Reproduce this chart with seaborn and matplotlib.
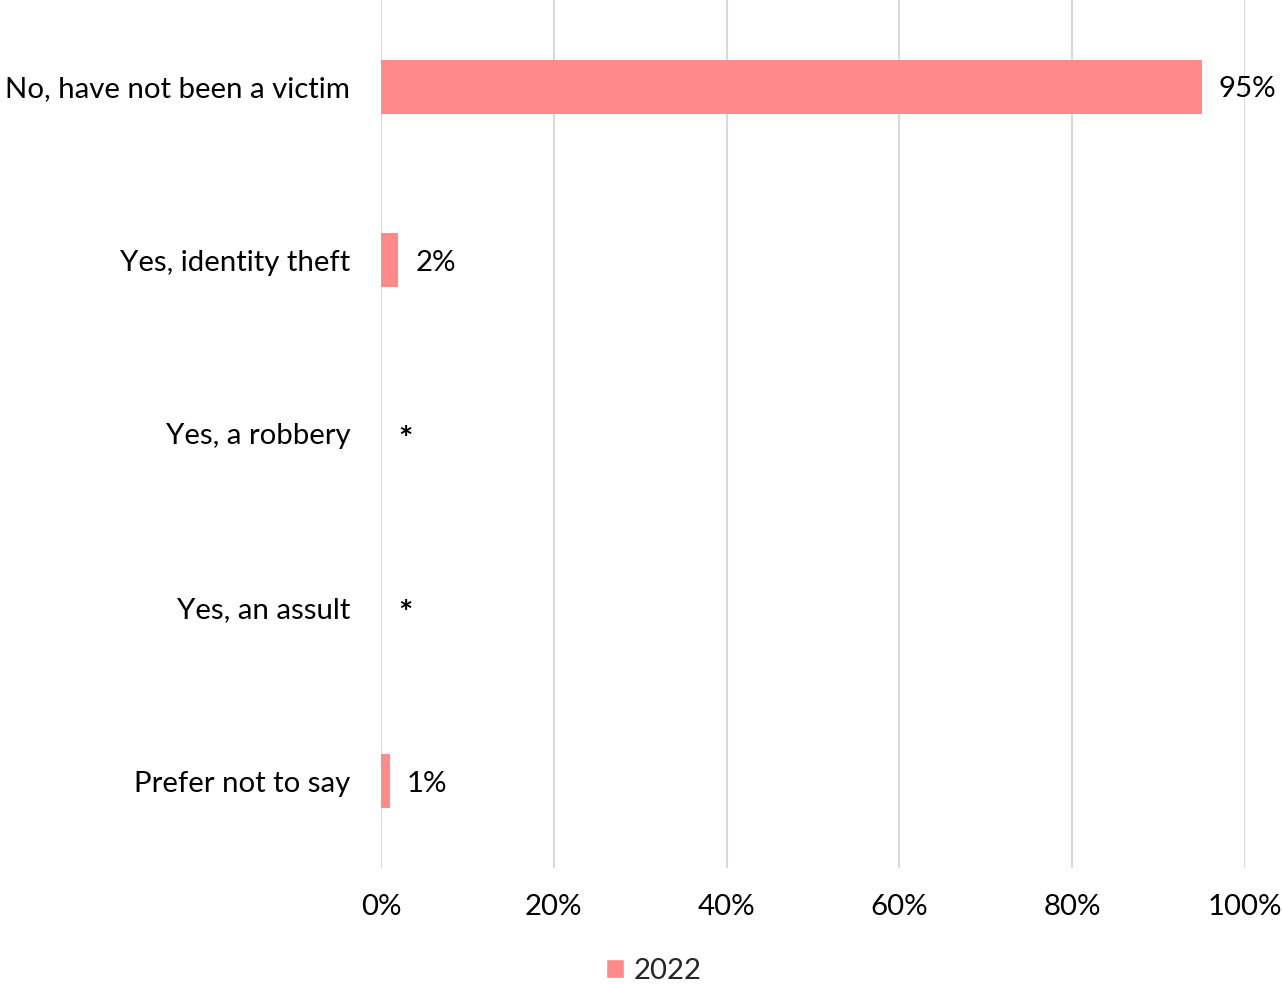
import pandas as pd
import seaborn as sns
import matplotlib.pyplot as plt
from matplotlib.patches import Patch
from matplotlib.ticker import PercentFormatter

categorias = ["No, have not been a victim", "Yes, identity theft", "Yes, a robbery",
              "Yes, an assult", "Prefer not to say"]
valores = [95, 2, 0, 0, 1]
etiquetas = ["95%", "2%", "*", "*", "1%"]
serie = "2022"

df = pd.DataFrame({"categoria": categorias, "valor": valores})

sns.set_style("white")
plt.rcParams["font.family"] = ["Lato", "DejaVu Sans"]

fig = plt.figure(figsize=(12.82, 9.84), dpi=100)
ax = fig.add_axes([0.2972, 0.1179, 0.6739, 0.8821])

color = "#FF8A8A"
sns.barplot(data=df, x="valor", y="categoria", orient="h", color=color,
            width=0.31, saturation=1, linewidth=0, ax=ax)

ax.set_xlim(0, 100)
ax.set_ylim(4.5, -0.5)
ax.set_xticks(range(0, 101, 20))
ax.xaxis.set_major_formatter(PercentFormatter(decimals=0))
ax.grid(axis="x", color="#D9D9D9", linewidth=1.5)
ax.set_axisbelow(True)
for s in ax.spines.values():
    s.set_visible(False)
ax.set_xlabel("")
ax.set_ylabel("")
ax.tick_params(axis="both", length=0, labelsize=21.2, colors="black")
ax.tick_params(axis="y", pad=22)
ax.tick_params(axis="x", pad=19)

# etiquetas de datos
for i, (v, t) in enumerate(zip(valores, etiquetas)):
    if t == "*":
        ax.annotate(t, xy=(v, i), xytext=(17, -4), textcoords="offset pixels",
                    ha="left", va="center_baseline", fontsize=24,
                    fontweight="bold", color="black")
    else:
        ax.annotate(t, xy=(v, i), xytext=(17, 0), textcoords="offset pixels",
                    ha="left", va="center_baseline", fontsize=21.2, color="black")

fig.legend(handles=[Patch(facecolor=color, label=serie)], loc="lower center",
           bbox_to_anchor=(0.51, -0.027), frameon=False, fontsize=21.2,
           handlelength=0.6, handleheight=0.6, handletextpad=0.35)

plt.savefig("out.png", dpi=100)
